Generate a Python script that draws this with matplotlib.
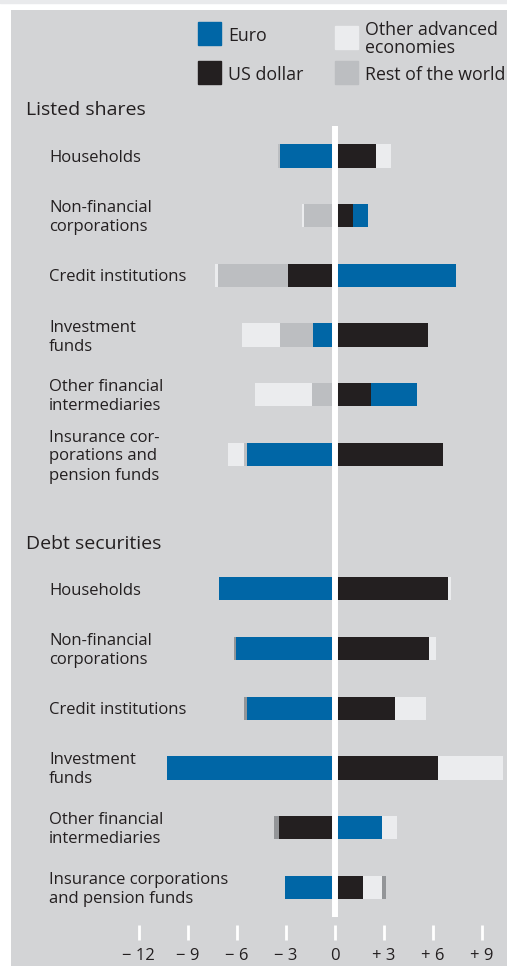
import numpy as np
import matplotlib
matplotlib.use("Agg")
import matplotlib.pyplot as plt
from matplotlib.patches import Rectangle

plt.rcParams["font.family"] = ["Open Sans", "DejaVu Sans"]

# ------------------- Data -------------------

ls_labels = ["Households", "Non-financial\ncorporations", "Credit institutions",
             "Investment\nfunds", "Other financial\nintermediaries",
             "Insurance cor-\nporations and\npension funds"]
ds_labels = ["Households", "Non-financial\ncorporations", "Credit institutions",
             "Investment\nfunds", "Other financial\nintermediaries",
             "Insurance corporations\nand pension funds"]

# listed shares (signed contributions)
euro_ls = [-3.36, 0.90, 7.38, -1.37, 2.80, -5.36]
usd_ls = [2.50, 1.10, -2.87, 5.71, 2.20, 6.59]
oae_ls = [0.90, -0.12, -0.19, -2.31, -3.50, -0.99]
row_ls = [-0.11, -1.88, -4.30, -1.99, -1.39, -0.21]

# debt securities
euro_ds = [-7.07, -6.06, -5.36, -10.26, 2.89, -3.08]
usd_ds = [6.89, 5.77, 3.69, 6.30, -3.45, 1.71]
oae_ds = [0.20, 0.41, 1.89, 3.98, 0.90, 1.18]
row_ds = [0.00, -0.10, -0.19, 0.00, -0.30, 0.23]

xticks = [-12, -9, -6, -3, 0, 3, 6, 9]
xticklabels = ["\u2212 12", "\u2212 9", "\u2212 6", "\u2212 3", "0", "+ 3", "+ 6", "+ 9"]

# ------------------- Style -------------------

c_euro = "#0066a6"
c_usd = "#231f20"
c_oae = "#ebecee"
c_row = "#bcbec1"
c_row_dark = "#939598"
bg = "#d3d4d6"
txt = "#231f20"

W, H = 507, 966
fig = plt.figure(figsize=(W / 100, H / 100), dpi=100)
fig.patch.set_facecolor("white")

def px(x0, y0, w, h):
    # figure rectangle from pixel coords (top-left origin)
    return [x0 / W, 1 - (y0 + h) / H, w / W, h / H]

fig.add_artist(Rectangle((0, 1 - 3 / H), 1, 3 / H, transform=fig.transFigure,
                         color="#e9eaec", zorder=0))

ax = fig.add_axes(px(11, 10, W - 11, H - 10))
ax.set_facecolor(bg)
for s in ax.spines.values():
    s.set_visible(False)
ax.set_xticks([])
ax.set_yticks([])

x_per_px = 1 / 16.35
ax.set_xlim((11 - 335) * x_per_px, (507 - 335) * x_per_px)
row_px = 59.7
ax.set_ylim((966 - 156) / row_px, (10 - 156) / row_px)
dy = 2 / row_px  # small nudge so text sits like the original

bar_h = 0.39
pos_order = ["usd", "euro", "oae", "row"]
neg_order = ["usd", "euro", "row", "oae"]


def draw_section(y0, labels, series, colors):
    for i, lab in enumerate(labels):
        y = y0 + i
        for order, sign in ((pos_order, 1), (neg_order, -1)):
            left = 0.0
            for key in order:
                v = series[key][i]
                if v * sign <= 0:
                    continue
                ax.barh(y, v, left=left, height=bar_h, color=colors[key],
                        edgecolor="none", zorder=2)
                left += v
        ax.text((49 - 335) * x_per_px, y + dy, lab, ha="left", va="center",
                fontsize=12, color=txt, linespacing=1.25)


ls_y = 0
ds_y = 7.25
draw_section(ls_y, ls_labels,
             {"euro": euro_ls, "usd": usd_ls, "oae": oae_ls, "row": row_ls},
             {"euro": c_euro, "usd": c_usd, "oae": c_oae, "row": c_row})
draw_section(ds_y, ds_labels,
             {"euro": euro_ds, "usd": usd_ds, "oae": oae_ds, "row": row_ds},
             {"euro": c_euro, "usd": c_usd, "oae": c_oae, "row": c_row_dark})

ax.text((26 - 335) * x_per_px, ls_y - 0.8 + dy, "Listed shares", ha="left",
        va="center", fontsize=14, color=txt)
ax.text((26 - 335) * x_per_px, ds_y - 0.78 + dy, "Debt securities", ha="left",
        va="center", fontsize=14, color=txt)

# centre line
ax.vlines(0, (126 - 156) / row_px, (917 - 156) / row_px, color="white",
          linewidth=4.3, zorder=3)

# ticks and labels
ax.vlines(xticks, (925 - 156) / row_px, (940 - 156) / row_px, color="white",
          linewidth=2, zorder=3)
for t, lab in zip(xticks, xticklabels):
    ax.text(t, (955.5 - 156) / row_px, lab, ha="center", va="center",
            fontsize=12, color=txt)

# legend
legend_items = [("Euro", c_euro, 198, 22, 228, 36),
                ("US dollar", c_usd, 198, 61, 228, 75),
                ("Other advanced\neconomies", c_oae, 335, 26, 365, 39),
                ("Rest of the world", c_row, 335, 61, 365, 75)]
for lab, col, bx, by, tx, ty in legend_items:
    fig.add_artist(Rectangle((bx / W, 1 - (by + 23) / H), 23 / W, 23 / H,
                             transform=fig.transFigure, color=col, zorder=5))
    fig.text(tx / W, 1 - ty / H, lab, ha="left", va="center", fontsize=12.8,
             color=txt, linespacing=0.95, zorder=5)

fig.savefig("out.png", dpi=100, facecolor=fig.get_facecolor())
